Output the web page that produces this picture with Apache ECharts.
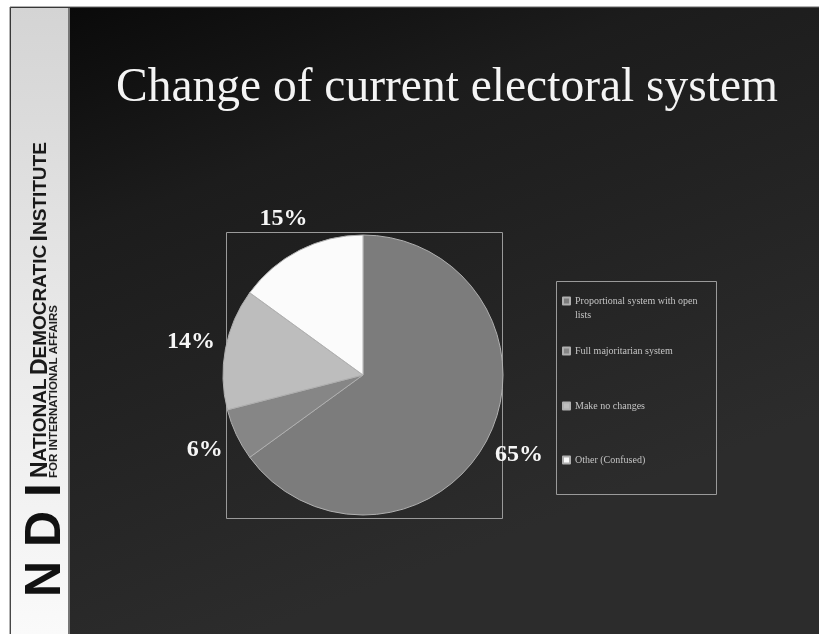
<!DOCTYPE html>
<html>
<head>
<meta charset="utf-8">
<script src="https://cdn.jsdelivr.net/npm/echarts@6/dist/echarts.min.js"></script>
<style>html,body{margin:0;padding:0;background:#fff}#c{width:819px;height:634px}</style>
</head>
<body>
<div id="c"></div>
<script>
// ---- data ----
const categories = ['Proportional system with open lists', 'Full majoritarian system', 'Make no changes', 'Other (Confused)'];
const values = [65, 6, 14, 15];
const sliceColors = ['#7c7c7c', '#868686', '#bdbdbd', '#fbfbfb'];
const titleText = 'Change of current electoral system';

// ---- layout (styles / positions) ----
const center = [363, 375];
const R = 140;
const legendTops = [280, 344, 399, 453];

const chart = echarts.init(document.getElementById('c'), null, {renderer: 'canvas'});

const pieData = categories.map((n, i) => ({name: n, value: values[i], itemStyle: {color: sliceColors[i]}}));

const legends = categories.map((n, i) => ({
  data: [n],
  orient: 'vertical',
  left: 562,
  top: legendTops[i],
  itemWidth: 7,
  itemHeight: 7,
  itemGap: 0,
  padding: 0,
  icon: 'rect',
  selectedMode: false,
  formatter: i === 0 ? (name => '\n' + name.replace(' lists', '\nlists')) : '{name}',
  textStyle: {color: '#c4c4c4', fontFamily: 'Liberation Serif', fontSize: 10, lineHeight: 14}
}));

chart.setOption({
  animation: false,
  title: {
    text: titleText, left: 442, top: 60, textAlign: 'center',
    textStyle: {color: '#f4f4f4', fontFamily: 'Liberation Serif', fontWeight: 'normal', fontSize: 47.5}
  },
  legend: legends,
  graphic: [
    {type: 'rect', z: -10, shape: {x: 0, y: 0, width: 819, height: 634}, style: {fill: '#ffffff'}},
    {type: 'rect', z: -9, shape: {x: 10, y: 7, width: 810, height: 628},
      style: {stroke: '#666', lineWidth: 1,
        fill: new echarts.graphic.LinearGradient(0, 0, 0.3, 1, [
          {offset: 0, color: '#080808'}, {offset: 0.35, color: '#1c1c1c'}, {offset: 1, color: '#2c2c2c'}])}},
    {type: 'rect', z: -8, shape: {x: 11, y: 8, width: 57, height: 626},
      style: {fill: new echarts.graphic.LinearGradient(0, 0, 0, 1, [
          {offset: 0, color: '#d4d4d4'}, {offset: 0.6, color: '#ececec'}, {offset: 1, color: '#fafafa'}])}},
    {type: 'rect', z: -7, shape: {x: 68, y: 8, width: 2, height: 626}, style: {fill: '#777'}},
    {type: 'rect', z: -6, shape: {x: 226.5, y: 232.5, width: 276, height: 286}, style: {fill: 'none', stroke: '#9a9a9a', lineWidth: 1}},
    {type: 'rect', z: -6, shape: {x: 556.5, y: 281.5, width: 160, height: 213}, style: {fill: 'none', stroke: '#9a9a9a', lineWidth: 1}},
    {type: 'text', z: 5, x: 52, y: 478, rotation: Math.PI / 2,
      style: {
        text: '{b|N}{s|ATIONAL} {b|D}{s|EMOCRATIC} {b|I}{s|NSTITUTE}',
        fill: '#1a1a1a', verticalAlign: 'bottom', align: 'left',
        rich: {b: {fontFamily: 'Liberation Sans', fontWeight: 'bold', fontSize: 23, fill: '#1a1a1a'},
               s: {fontFamily: 'Liberation Sans', fontWeight: 'bold', fontSize: 19, fill: '#1a1a1a'}}
      }},
    {type: 'text', z: 5, x: 60, y: 478, rotation: Math.PI / 2,
      style: {text: 'FOR INTERNATIONAL AFFAIRS', fill: '#222', fontFamily: 'Liberation Sans', fontWeight: 'bold', fontSize: 11.5, verticalAlign: 'bottom', align: 'left'}},
    {type: 'text', z: 5, x: 71, y: 597, rotation: Math.PI / 2,
      style: {text: 'N D I', fill: '#111', fontFamily: 'Liberation Sans', fontWeight: 'bold', fontSize: 50, verticalAlign: 'bottom', align: 'left'}}
  ],
  series: [
    {
      type: 'pie', center: center, radius: R, startAngle: 90, clockwise: true,
      silent: true, data: pieData,
      label: {show: false}, labelLine: {show: false},
      itemStyle: {borderColor: '#b0b0b0', borderWidth: 1}
    },
    {
      type: 'pie', center: center, radius: [R, R + 64], startAngle: 90, clockwise: true,
      silent: true, data: pieData.map(d => ({name: d.name, value: d.value})),
      itemStyle: {color: 'rgba(0,0,0,0)'},
      label: {show: true, position: 'inside', formatter: '{c}%', color: '#f6f6f6',
        fontFamily: 'Liberation Serif', fontWeight: 'bold', fontSize: 24},
      labelLine: {show: false}
    }
  ]
});
</script>
</body>
</html>
